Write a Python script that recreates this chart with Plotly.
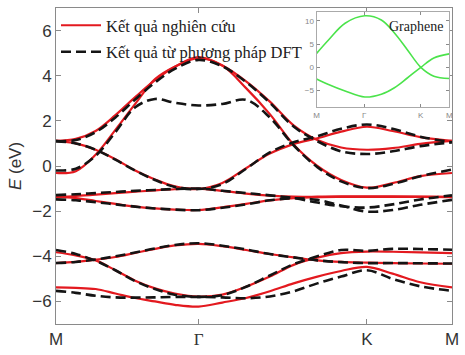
import plotly.graph_objects as go

# path coordinate (M -> Gamma -> K -> M)
kpath = [0, 0.05, 0.10, 0.15, 0.20, 0.25, 0.30, 0.36, 0.42, 0.48, 0.54, 0.60, 0.66, 0.72, 0.785, 0.85, 0.92, 1.0]
tick_pos = [0, 0.36, 0.785, 1.0]
tick_lbl = ["M", "Γ", "K", "M"]

# model bands (red)
model_bands = [
    [1.11, 1.2, 1.55, 2.25, 3.05, 3.8, 4.4, 4.82, 4.45, 3.75, 2.85, 1.8, 1.15, 0.82, 0.72, 0.79, 0.98, 1.11],
    [-0.31, -0.23, 0.5, 1.6, 2.75, 3.85, 4.4, 4.78, 4.45, 3.45, 2.3, 0.95, 0.0, -0.62, -0.96, -0.76, -0.45, -0.31],
    [1.11, 1.0, 0.72, 0.3, -0.2, -0.6, -0.9, -1.02, -0.75, -0.1, 0.55, 0.97, 1.23, 1.52, 1.74, 1.55, 1.28, 1.11],
    [-1.37, -1.33, -1.27, -1.2, -1.14, -1.08, -1.03, -1.0, -1.1, -1.22, -1.31, -1.36, -1.36, -1.35, -1.35, -1.35, -1.36, -1.37],
    [-1.37, -1.42, -1.55, -1.68, -1.8, -1.88, -1.93, -1.95, -1.83, -1.68, -1.52, -1.42, -1.38, -1.37, -1.37, -1.37, -1.37, -1.38],
    [-3.82, -3.96, -4.18, -4.62, -5.08, -5.42, -5.65, -5.79, -5.7, -5.35, -4.9, -4.38, -4.06, -3.86, -3.79, -3.8, -3.83, -3.86],
    [-4.3, -4.25, -4.15, -4.03, -3.85, -3.67, -3.52, -3.45, -3.55, -3.72, -3.9, -4.05, -4.18, -4.25, -4.28, -4.3, -4.32, -4.33],
    [-5.38, -5.4, -5.45, -5.65, -5.85, -6.0, -6.15, -6.23, -6.05, -5.85, -5.55, -5.2, -4.9, -4.65, -4.47, -4.77, -5.15, -5.38],
]

# DFT bands (black dashed)
dft_bands = [
    [1.1, 1.15, 1.5, 2.15, 2.95, 3.7, 4.3, 4.7, 4.42, 3.72, 2.8, 1.75, 1.1, 0.65, 0.53, 0.65, 0.88, 1.05],
    [-0.2, -0.12, 0.45, 1.5, 2.6, 2.97, 2.8, 2.68, 2.75, 2.93, 2.15, 0.92, -0.05, -0.68, -0.98, -0.8, -0.45, -0.16],
    [1.1, 1.0, 0.72, 0.28, -0.2, -0.62, -0.93, -1.02, -0.8, -0.12, 0.6, 1.05, 1.32, 1.65, 1.84, 1.65, 1.3, 1.05],
    [-1.29, -1.25, -1.2, -1.15, -1.1, -1.06, -1.02, -1.0, -1.1, -1.2, -1.3, -1.42, -1.62, -1.78, -1.84, -1.7, -1.48, -1.3],
    [-1.48, -1.52, -1.6, -1.7, -1.8, -1.88, -1.93, -1.96, -1.85, -1.7, -1.52, -1.43, -1.5, -1.75, -2.02, -1.95, -1.72, -1.5],
    [-3.72, -3.9, -4.2, -4.62, -5.1, -5.45, -5.7, -5.8, -5.72, -5.35, -4.85, -4.35, -4.0, -3.72, -3.76, -3.67, -3.68, -3.71],
    [-4.3, -4.25, -4.14, -4.0, -3.83, -3.65, -3.5, -3.42, -3.53, -3.7, -3.9, -4.05, -4.18, -4.26, -4.3, -4.3, -4.31, -4.32],
    [-5.53, -5.62, -5.75, -5.82, -5.83, -5.82, -5.8, -5.8, -5.82, -5.86, -5.78, -5.55, -5.2, -4.9, -4.62, -5.0, -5.33, -5.53],
]

# inset: graphene
k_inset = [0, 0.09, 0.215, 0.364, 0.488, 0.587, 0.684, 0.786, 0.884, 1.0]
graphene_upper = [3.0, 5.9, 9.5, 11.1, 10.2, 7.4, 3.8, 0.0, -1.9, -2.4]
graphene_lower = [-2.5, -3.7, -5.1, -6.4, -5.8, -4.4, -2.3, 0.0, 2.0, 2.9]

RED = "#e3191f"
BLACK = "#141414"
GREEN = "#4be34b"
AXC = "#8a8a8a"

fig = go.Figure()
for i, b in enumerate(model_bands):
    fig.add_trace(go.Scatter(
        x=kpath, y=b, mode="lines", line=dict(color=RED, width=2.2, shape="spline"),
        name="Kết quả nghiên cứu", legendgroup="model", showlegend=(i == 0)))
for i, b in enumerate(dft_bands):
    fig.add_trace(go.Scatter(
        x=kpath, y=b, mode="lines", line=dict(color=BLACK, width=2.6, dash="10px,5px", shape="spline"),
        name="Kết quả từ phương pháp DFT", legendgroup="dft", showlegend=(i == 0)))

for b in (graphene_upper, graphene_lower):
    fig.add_trace(go.Scatter(
        x=k_inset, y=b, mode="lines", line=dict(color=GREEN, width=1.6, shape="spline"),
        xaxis="x2", yaxis="y2", showlegend=False))

fig.update_layout(
    width=465, height=355,
    margin=dict(l=56, r=6, t=8, b=29),
    paper_bgcolor="white", plot_bgcolor="white",
    font=dict(family="Liberation Sans, Arial", color="#333333"),
    xaxis=dict(range=[0, 1], tickvals=tick_pos,
               ticktext=["M", "<span style='font-family:Liberation Serif'>Γ</span>", "K", "M"],
               ticks="inside", ticklen=5, tickcolor=AXC, showline=True, linecolor=AXC, linewidth=1,
               mirror="ticks", showgrid=False, zeroline=False, tickfont=dict(size=17)),
    yaxis=dict(range=[-7, 7], tickvals=[-6, -4, -2, 0, 2, 4, 6],
               ticks="inside", ticklen=5, tickcolor=AXC, showline=True, linecolor=AXC, linewidth=1,
               mirror="ticks", showgrid=False, zeroline=False, tickfont=dict(size=17),
               title=dict(text="<i>E</i> (eV)", font=dict(size=17), standoff=6)),
    xaxis2=dict(domain=[0.658, 0.993], anchor="y2", range=[0, 1], tickvals=tick_pos,
                ticktext=tick_lbl, ticks="inside", ticklen=3, tickcolor=AXC, showline=True,
                linecolor="#aaaaaa", linewidth=1, mirror="ticks", showgrid=False, zeroline=False,
                tickfont=dict(size=8, color="#888888")),
    yaxis2=dict(domain=[0.686, 0.987], anchor="x2", range=[-8.6, 11.9], tickvals=[-5, 0, 5, 10],
                ticks="inside", ticklen=3, tickcolor=AXC, showline=True, linecolor="#aaaaaa", linewidth=1,
                mirror="ticks", showgrid=False, zeroline=False,
                tickfont=dict(size=8, color="#888888")),
    legend=dict(x=0.0, y=1.0, xanchor="left", yanchor="top", bgcolor="rgba(0,0,0,0)",
                font=dict(family="Liberation Serif, Times New Roman", size=16.5, color="#222222"),
                tracegroupgap=2, itemwidth=40),
    annotations=[dict(text="Graphene", xref="paper", yref="paper", x=0.91, y=0.94,
                      xanchor="center", yanchor="middle", showarrow=False,
                      font=dict(family="Liberation Serif", size=14, color="#222222"))],
)

fig.write_html("out.html", config={"displayModeBar": False},
               post_script="document.body.style.margin='0';")
